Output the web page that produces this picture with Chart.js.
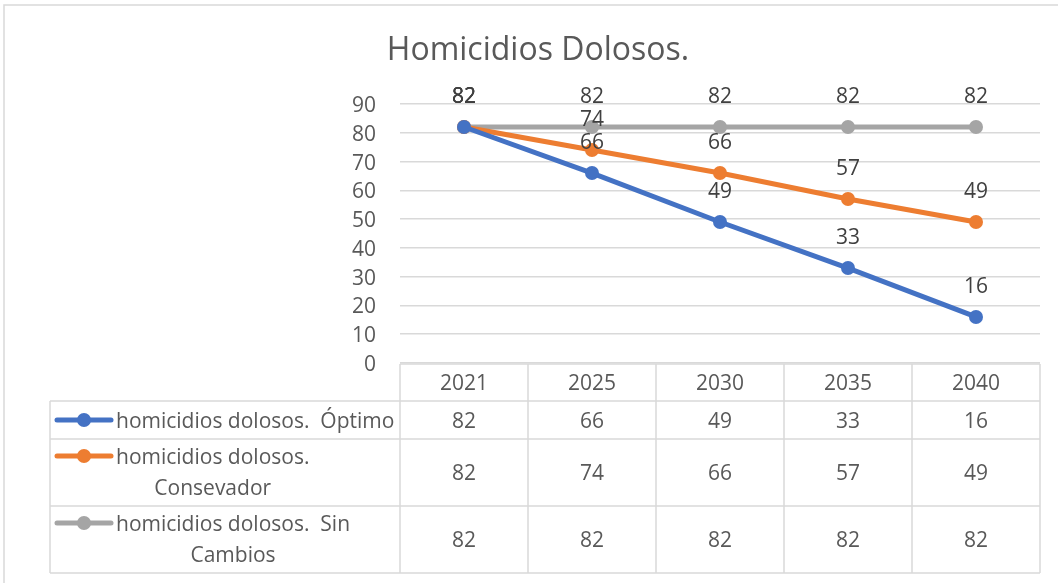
<!DOCTYPE html>
<html>
<head>
<meta charset="utf-8">
<script src="https://cdn.jsdelivr.net/npm/chart.js@4.4.1/dist/chart.umd.min.js"></script>
<style>
  html, body { margin: 0; padding: 0; background: #fff; }
  #wrap { width: 1058px; height: 583px; position: relative; }
</style>
</head>
<body>
<div id="wrap"><canvas id="c" width="1058" height="583"></canvas></div>
<script>
// Years shown on the category axis / table header
const years = ['2021', '2025', '2030', '2035', '2040'];

// Scenario series
const optimo = [82, 66, 49, 33, 16];
const conservador = [82, 74, 66, 57, 49];
const sinCambios = [82, 82, 82, 82, 82];

// Series names as they wrap inside the data table
const nameOptimo = ['homicidios dolosos.  Óptimo'];
const nameConservador = ['homicidios dolosos.', 'Consevador'];
const nameSinCambios = ['homicidios dolosos.  Sin', 'Cambios'];

const chartTitle = 'Homicidios Dolosos.';

const FONT = '"Open Sans", "Liberation Sans", sans-serif';
const BODY_SIZE = 21;
const DY = 2; // nudges the middle baseline down a little
const GRID = '#d9d9d9';
const TEXT = '#595959';

const series = [
  { data: optimo, color: '#4472C4', name: nameOptimo },
  { data: conservador, color: '#ED7D31', name: nameConservador },
  { data: sinCambios, color: '#A5A5A5', name: nameSinCambios }
];

// Frame, title, data labels and the data table under the plot
const decor = {
  id: 'decor',
  beforeDraw(chart) {
    const ctx = chart.ctx;
    ctx.save();
    ctx.fillStyle = '#fff';
    ctx.fillRect(0, 0, chart.width, chart.height);
    ctx.strokeStyle = GRID;
    ctx.lineWidth = 1.5;
    ctx.strokeRect(4, 5, 1200, 700);
    ctx.fillStyle = TEXT;
    ctx.font = '32px ' + FONT;
    ctx.textAlign = 'center';
    ctx.textBaseline = 'middle';
    ctx.fillText(chartTitle, 538, 51);
    ctx.restore();
  },
  afterDatasetsDraw(chart) {
    const ctx = chart.ctx;
    ctx.save();
    ctx.font = BODY_SIZE + 'px ' + FONT;
    ctx.fillStyle = '#404040';
    ctx.textAlign = 'center';
    ctx.textBaseline = 'middle';
    chart.data.datasets.forEach((ds, di) => {
      const meta = chart.getDatasetMeta(di);
      meta.data.forEach((pt, i) => {
        ctx.fillText(String(ds.data[i]), pt.x, pt.y - 32 + DY);
      });
    });
    ctx.restore();
  },
  afterDraw(chart) {
    const ctx = chart.ctx;
    const x = chart.scales.x;
    const area = chart.chartArea;
    const n = years.length;
    const band = (area.right - area.left) / n;
    const top = area.bottom + 1;
    const rowTops = [top, top + 37, top + 75, top + 142, top + 209];
    const legendLeft = 50;

    ctx.save();
    ctx.strokeStyle = GRID;
    ctx.lineWidth = 1.5;
    ctx.beginPath();
    // horizontal rules
    ctx.moveTo(area.left, rowTops[0]); ctx.lineTo(area.right, rowTops[0]);
    for (let r = 1; r < rowTops.length; r++) {
      ctx.moveTo(legendLeft, rowTops[r]); ctx.lineTo(area.right, rowTops[r]);
    }
    // vertical rules
    for (let c = 0; c <= n; c++) {
      const vx = area.left + c * band;
      ctx.moveTo(vx, rowTops[0]); ctx.lineTo(vx, rowTops[4]);
    }
    ctx.moveTo(legendLeft, rowTops[1]); ctx.lineTo(legendLeft, rowTops[4]);
    ctx.stroke();

    ctx.font = BODY_SIZE + 'px ' + FONT;
    ctx.fillStyle = TEXT;
    ctx.textAlign = 'center';
    ctx.textBaseline = 'middle';
    // header with the years
    years.forEach((y, i) => {
      ctx.fillText(y, x.getPixelForValue(i), (rowTops[0] + rowTops[1]) / 2 + DY);
    });

    series.forEach((s, r) => {
      const t = rowTops[r + 1], b = rowTops[r + 2];
      const mid = (t + b) / 2;
      // values
      s.data.forEach((v, i) => {
        ctx.fillText(String(v), x.getPixelForValue(i), mid + DY);
      });
      // legend key
      const lineY = s.name.length > 1 ? t + 17 : mid;
      ctx.strokeStyle = s.color;
      ctx.lineWidth = 5;
      ctx.lineCap = 'round';
      ctx.beginPath();
      ctx.moveTo(57, lineY); ctx.lineTo(111, lineY);
      ctx.stroke();
      ctx.fillStyle = s.color;
      ctx.beginPath();
      ctx.arc(84, lineY, 7, 0, Math.PI * 2);
      ctx.fill();
      // series name, lines centred within their block
      ctx.fillStyle = TEXT;
      const widths = s.name.map(l => ctx.measureText(l).width);
      const cx = 116 + Math.max(...widths) / 2;
      s.name.forEach((line, li) => {
        ctx.fillText(line, cx, lineY + li * 31 + DY);
      });
    });
    ctx.restore();
  }
};

new Chart(document.getElementById('c'), {
  type: 'line',
  data: {
    labels: years,
    datasets: series.map(s => ({
      label: s.name.join(' '),
      data: s.data,
      borderColor: s.color,
      backgroundColor: s.color,
      borderWidth: 5,
      pointRadius: 7,
      pointHoverRadius: 7,
      pointBorderWidth: 0,
      tension: 0,
      fill: false
    }))
  },
  options: {
    responsive: false,
    animation: false,
    devicePixelRatio: 1,
    layout: { padding: { left: 0, right: 18, top: 104, bottom: 220 } },
    plugins: {
      legend: { display: false },
      title: { display: false },
      tooltip: { enabled: false }
    },
    scales: {
      x: {
        display: false,
        offset: true
      },
      y: {
        min: 0,
        max: 90,
        afterFit(scale) { scale.width = 400; },
        ticks: {
          stepSize: 10,
          padding: 24,
          labelOffset: DY,
          color: TEXT,
          font: { family: FONT, size: BODY_SIZE }
        },
        border: { display: false },
        grid: { color: GRID, lineWidth: 1.5, drawTicks: false }
      }
    }
  },
  plugins: [decor]
});
</script>
</body>
</html>
